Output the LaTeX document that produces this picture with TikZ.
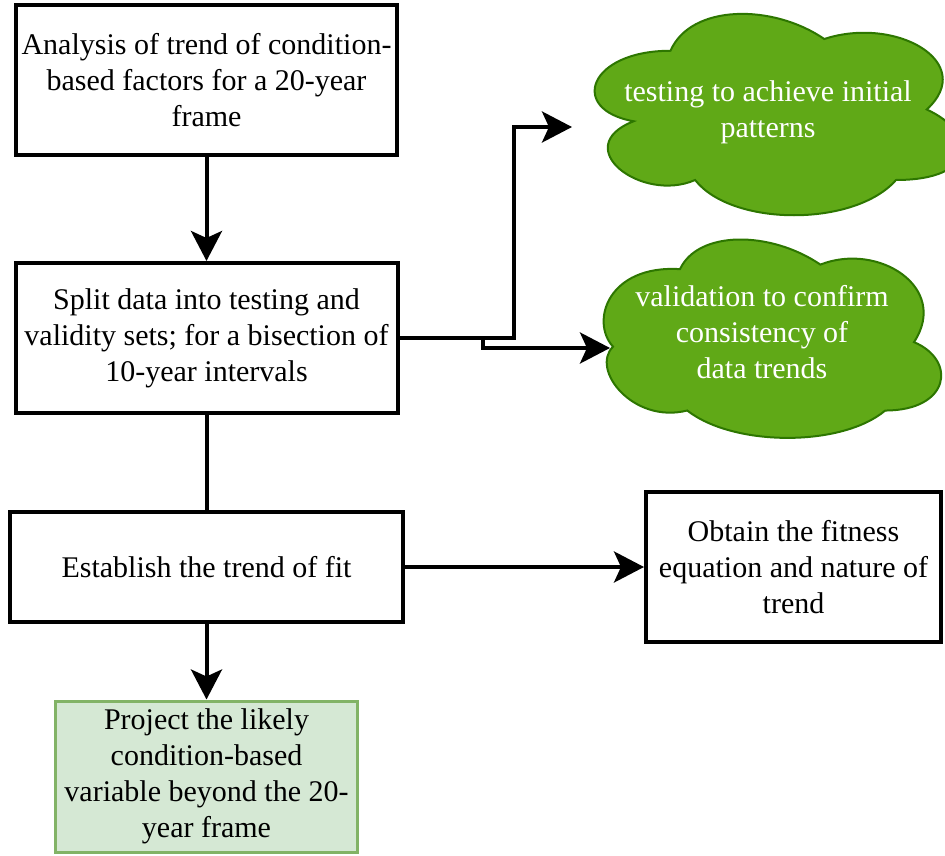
\documentclass[tikz,border=0pt]{standalone}
\usepackage{fontspec}
\setmainfont{Liberation Serif}
\usetikzlibrary{arrows.meta}
\definecolor{cloudfill}{HTML}{60A917}
\definecolor{clouddraw}{HTML}{2D7600}
\definecolor{gfill}{HTML}{D5E8D4}
\definecolor{gdraw}{HTML}{82B366}
\begin{document}
\begin{tikzpicture}[x=1pt,y=-1pt,
  txt/.style={font=\fontsize{30}{36}\selectfont, align=center, inner sep=0pt},
  box/.style={txt, draw=black, line width=4pt, fill=white},
  gbox/.style={txt, draw=gdraw, line width=3pt, fill=gfill},
  ctext/.style={txt, text=white},
  cloudshape/.style={fill=cloudfill, draw=clouddraw, line width=2pt},
  conn/.style={line width=4pt, draw=black},
  arr/.style={conn, -{Stealth[length=30pt,width=31pt,inset=7pt]}}]
\useasboundingbox (0,0) rectangle (945,856);
\clip (0,0) rectangle (945,856);

% clouds
\begin{scope}[shift={(568,-8)}, x=410pt, y=-235pt]
\path[cloudshape] (0.25,0.25) .. controls (0.05,0.25) and (0,0.5) .. (0.16,0.55)
  .. controls (0,0.66) and (0.18,0.9) .. (0.31,0.8)
  .. controls (0.4,1) and (0.7,1) .. (0.8,0.8)
  .. controls (1,0.8) and (1,0.6) .. (0.875,0.5)
  .. controls (1,0.3) and (0.8,0.1) .. (0.625,0.2)
  .. controls (0.5,0.05) and (0.3,0.05) .. (0.25,0.25) -- cycle;
\end{scope}
\begin{scope}[shift={(590,219)}, x=360pt, y=-228pt]
\path[cloudshape] (0.25,0.22) .. controls (0.05,0.2) and (0,0.45) .. (0.064,0.56)
  .. controls (0,0.66) and (0.12,0.9) .. (0.27,0.84)
  .. controls (0.4,1) and (0.7,1) .. (0.82,0.84)
  .. controls (1,0.84) and (1.02,0.62) .. (0.9,0.54)
  .. controls (1,0.3) and (0.8,0.1) .. (0.64,0.2)
  .. controls (0.5,0.05) and (0.3,0.05) .. (0.25,0.22) -- cycle;
\end{scope}
\node[ctext] (t1) at (768,112) {testing to achieve initial\\patterns};
\node[ctext] (t2) at (762,332) {validation to confirm\\consistency of\\data trends};
\coordinate (c1in) at (572,127);
\coordinate (c2in) at (610,348);

% boxes
\node[box, minimum width=381pt, minimum height=150pt] (b1) at (206.5,80)
  {Analysis of trend of condition-\\based factors for a 20-year\\frame};
\node[box, minimum width=382pt, minimum height=150pt] (b2) at (206.5,338)
  {Split data into testing and\\validity sets; for a bisection of\\10-year intervals};
\node[box, minimum width=393pt, minimum height=110pt] (b3) at (206.5,567)
  {Establish the trend of fit};
\node[box, minimum width=295pt, minimum height=150pt] (b4) at (793.5,567)
  {Obtain the fitness\\equation and nature of\\trend};
\node[gbox, minimum width=302pt, minimum height=151pt] (b5) at (206.5,776.5)
  {Project the likely\\condition-based\\variable beyond the 20-\\year frame};

% connectors
\draw[arr] (b1) -- (b2);
\draw[conn] (b2) -- (b3);
\draw[arr] (b3) -- (b5);
\draw[arr] (b3) -- (b4);
\draw[arr] (b2.east) -- ++(114,0) |- (c1in);
\draw[arr] (b2.east) -- ++(83,0) -- ++(0,10) -- (c2in);
\end{tikzpicture}
\end{document}
